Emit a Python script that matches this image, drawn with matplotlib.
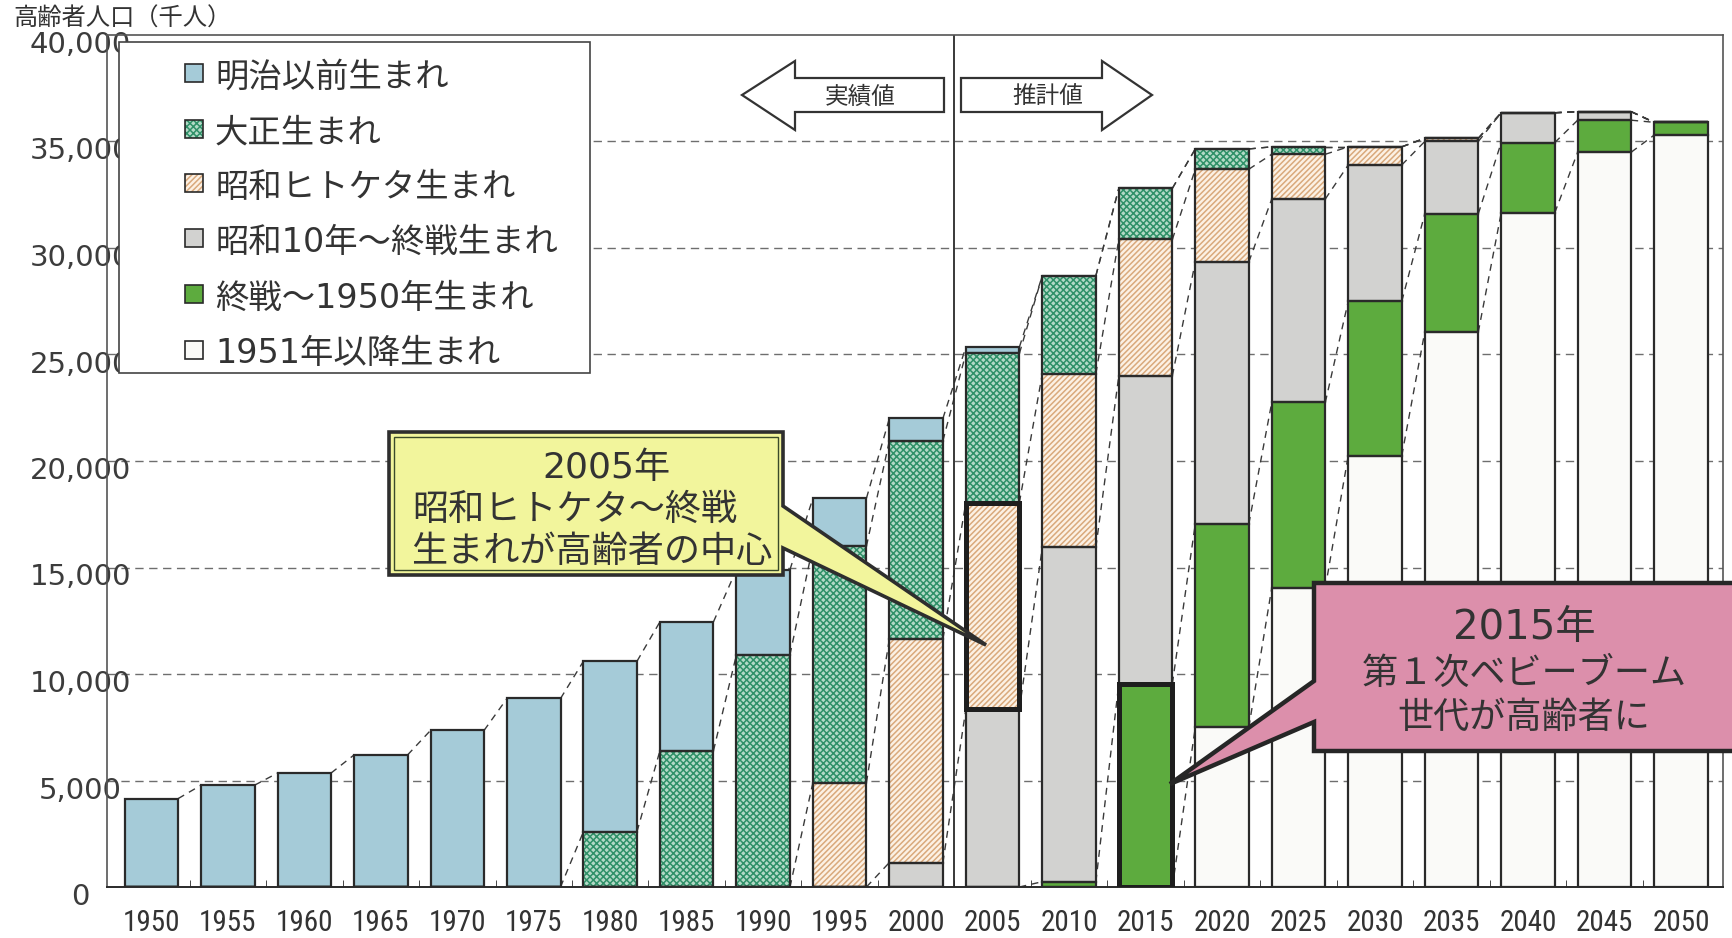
import matplotlib
matplotlib.use('Agg')
import matplotlib.pyplot as plt
import numpy as np
from matplotlib.patches import Rectangle, Polygon
from matplotlib.transforms import Affine2D, ScaledTranslation
from matplotlib import font_manager

# ---------------- data (thousand persons) ----------------
years = [1950, 1955, 1960, 1965, 1970, 1975, 1980, 1985, 1990, 1995, 2000,
         2005, 2010, 2015, 2020, 2025, 2030, 2035, 2040, 2045, 2050]
born_1951_after = [0, 0, 0, 0, 0, 0, 0, 0, 0, 0, 0,
                   0, 0, 0, 7500, 14050, 20250, 26050, 31650, 34500, 35300]
born_postwar_1950 = [0, 0, 0, 0, 0, 0, 0, 0, 0, 0, 0,
                     0, 250, 9550, 9550, 8700, 7250, 5550, 3300, 1500, 600]
born_showa10_war = [0, 0, 0, 0, 0, 0, 0, 0, 0, 0, 1150,
                    8350, 15700, 14450, 12300, 9550, 6400, 3400, 1400, 400, 0]
born_showa_hitoketa = [0, 0, 0, 0, 0, 0, 0, 0, 0, 4900, 10500,
                       9700, 8150, 6400, 4350, 2100, 850, 150, 0, 0, 0]
born_taisho = [0, 0, 0, 0, 0, 0, 2600, 6400, 10900, 11100, 9300,
               7000, 4600, 2400, 950, 350, 0, 0, 0, 0, 0]
born_meiji = [4150, 4780, 5350, 6200, 7350, 8850, 8000, 6050, 4000, 2250, 1050,
              300, 0, 0, 0, 0, 0, 0, 0, 0, 0]

series_labels = ['明治以前生まれ', '大正生まれ', '昭和ヒトケタ生まれ',
                 '昭和10年～終戦生まれ', '終戦～1950年生まれ', '1951年以降生まれ']
yticks = [0, 5000, 10000, 15000, 20000, 25000, 30000, 35000, 40000]
ytick_labels = ['0', '5,000', '10,000', '15,000', '20,000', '25,000',
                '30,000', '35,000', '40,000']
axis_title = '高齢者人口（千人）'
actual_label = '実績値'
estimate_label = '推計値'
callout_2005 = ['2005年', '昭和ヒトケタ～終戦', '生まれが高齢者の中心']
callout_2015 = ['2015年', '第１次ベビーブーム', '世代が高齢者に']

# ---------------- styles ----------------
MIX = ['DejaVu Sans', 'Noto Sans CJK JP']
plt.rcParams['font.family'] = ['Noto Sans CJK JP', 'DejaVu Sans']
plt.rcParams['hatch.linewidth'] = 1.1
names = {f.name for f in font_manager.fontManager.ttflist}
xfont = 'DejaVu Sans'
for cand in ['Liberation Sans Narrow', 'Roboto Condensed', 'Open Sans Condensed']:
    if cand in names:
        xfont = cand
        break

DARK = '#2a2a2a'
TXT = '#333333'
# bottom -> top order
layers = [born_1951_after, born_postwar_1950, born_showa10_war,
          born_showa_hitoketa, born_taisho, born_meiji]
styles = [
    dict(face='#fafaf8'),
    dict(face='#5dab3e'),
    dict(face='#d2d2d0'),
    dict(face='#fcf1e4', hatch='//////', hcolor='#d9a97c'),
    dict(face='#b3dac7', hatch='xxxxx', hcolor='#2f9068'),
    dict(face='#a5cbd8'),
]
legend_styles = styles[::-1]

W, H = 1732, 938
fig = plt.figure(figsize=(W / 100, H / 100), dpi=100)
fig.patch.set_facecolor('white')
PX = Affine2D().scale(1 / W, -1 / H).translate(0, 1) + fig.transFigure

ax = fig.add_axes([107 / W, 1 - 887 / H, (1723 - 107) / W, (887 - 35) / H])
x = np.arange(len(years))
width = 0.7
ax.set_xlim(-0.58, len(years) - 1 + 0.55)
ax.set_ylim(0, 40000)

# dashed gridlines
for v in yticks[1:-1]:
    ax.axhline(v, color='#6e6e6e', lw=1.0, dashes=(6, 4), zorder=0.5)

arr = np.array(layers, dtype=float)
cum = np.cumsum(arr, axis=0)
bottom = np.zeros(len(years))
for vals, st in zip(arr, styles):
    ax.bar(x, vals, width, bottom=bottom, color=st['face'],
           edgecolor=st.get('hcolor', st['face']), hatch=st.get('hatch'),
           linewidth=0, zorder=2)
    ax.bar(x, vals, width, bottom=bottom, fill=False, edgecolor=DARK,
           linewidth=1.6, zorder=3)
    bottom += vals

# cohort connector lines
for k in range(cum.shape[0]):
    for i in range(len(years) - 1):
        y0, y1 = cum[k, i], cum[k, i + 1]
        if y0 == 0 and y1 == 0:
            continue
        ax.plot([x[i] + width / 2, x[i + 1] - width / 2], [y0, y1],
                color='#3a3a3a', lw=1.0, dashes=(5, 4), zorder=1.5)

# highlighted segments
i05 = years.index(2005)
i15 = years.index(2015)
ax.bar(x[i05], arr[3, i05], width, bottom=cum[2, i05], fill=False,
       edgecolor='#1e1e1e', linewidth=3.6, zorder=4)
ax.bar(x[i15], arr[1, i15], width, bottom=cum[0, i15], fill=False,
       edgecolor='#1e1e1e', linewidth=3.6, zorder=4)

# actual / estimate divider
ax.axvline((x[years.index(2000)] + x[i05]) / 2, color=DARK, lw=1.3, zorder=1.6)

# axes styling
for s in ['top', 'left', 'right']:
    ax.spines[s].set_color('#555555')
    ax.spines[s].set_linewidth(1.2)
ax.spines['bottom'].set_color(DARK)
ax.spines['bottom'].set_linewidth(1.4)
ax.set_xticks(x)
ax.set_xticklabels([str(y) for y in years], family=[xfont, 'DejaVu Sans'],
                   fontsize=21, color=TXT)
ax.set_xticks(x[:-1] + 0.5, minor=True)
ax.tick_params(axis='x', which='major', length=0, pad=16)
ax.tick_params(axis='x', which='minor', direction='in', length=5, color=DARK)
ax.set_yticks(yticks)
ax.set_yticklabels(ytick_labels, fontsize=21, color='#3c3c3c', family=MIX)
ax.tick_params(axis='y', length=0, pad=19)
off = ScaledTranslation(0, -7 / 100, fig.dpi_scale_trans)
for lab in ax.get_yticklabels():
    lab.set_horizontalalignment('center')
    lab.set_transform(lab.get_transform() + off)

# axis title
fig.text(13, 19, axis_title, transform=PX, fontsize=17.5, color=TXT,
         ha='left', va='center')

# legend (manual)
fig.patches.append(Rectangle((119, 42), 471, 331, transform=PX, facecolor='white',
                             edgecolor='#444444', lw=1.2, zorder=5))
ycent = [75, 131, 185, 240, 296, 352]
for yc, lab, st in zip(ycent, series_labels, legend_styles):
    fig.patches.append(Rectangle((185, yc - 11), 18, 18, transform=PX,
                                 facecolor=st['face'], edgecolor=st.get('hcolor', st['face']),
                                 hatch=st.get('hatch'), lw=0, zorder=6))
    fig.patches.append(Rectangle((185, yc - 11), 18, 18, transform=PX, fill=False,
                                 edgecolor=DARK, lw=1.2, zorder=6.5))
    fig.text(215, yc + 2, lab, transform=PX, fontsize=24, color=TXT, family=MIX,
             ha='left', va='center', zorder=7)

# arrows
left_arrow = [(742, 95), (795, 61), (795, 78), (944, 78), (944, 112),
              (795, 112), (795, 130)]
right_arrow = [(1152, 95), (1102, 61), (1102, 78), (961, 78), (961, 112),
               (1102, 112), (1102, 130)]
for pts in (left_arrow, right_arrow):
    fig.patches.append(Polygon(pts, closed=True, transform=PX, facecolor='white',
                               edgecolor='#333333', lw=1.6, zorder=5))
fig.text(860, 97, actual_label, transform=PX, fontsize=17, color=TXT,
         ha='center', va='center', zorder=6)
fig.text(1048, 97, estimate_label, transform=PX, fontsize=17, color=TXT,
         ha='center', va='center', zorder=6)

# yellow callout
ybox = [(389, 432), (783, 432), (783, 506), (986, 645), (783, 548),
        (783, 575), (389, 575)]
fig.patches.append(Polygon(ybox, closed=True, transform=PX, facecolor='#f2f59c',
                           edgecolor='#2e2e2e', lw=2.6, zorder=8))
fig.patches.append(Rectangle((394, 437), 384, 133, transform=PX, fill=False,
                             edgecolor='#3a4a2a', lw=1.0, zorder=8.5))
for (cx, cy, fs), t in zip([(606, 468, 26), (575, 510, 26), (592, 552, 26)],
                           callout_2005):
    fig.text(cx, cy, t, transform=PX, fontsize=fs, color=TXT, ha='center',
             family=MIX, va='center', zorder=9)

# pink callout
pbox = [(1314, 583), (1745, 583), (1745, 751), (1314, 751), (1314, 722),
        (1170, 784), (1314, 681)]
fig.patches.append(Polygon(pbox, closed=True, transform=PX, facecolor='#dc8fab',
                           edgecolor='#262626', lw=3.2, zorder=8))
for (cx, cy, fs), t in zip([(1524, 628, 29), (1524, 674, 26), (1524, 718, 26)],
                           callout_2015):
    fig.text(cx, cy, t, transform=PX, fontsize=fs, color=TXT, ha='center',
             family=MIX, va='center', zorder=9)

fig.savefig('out.png', dpi=100, facecolor='white')
